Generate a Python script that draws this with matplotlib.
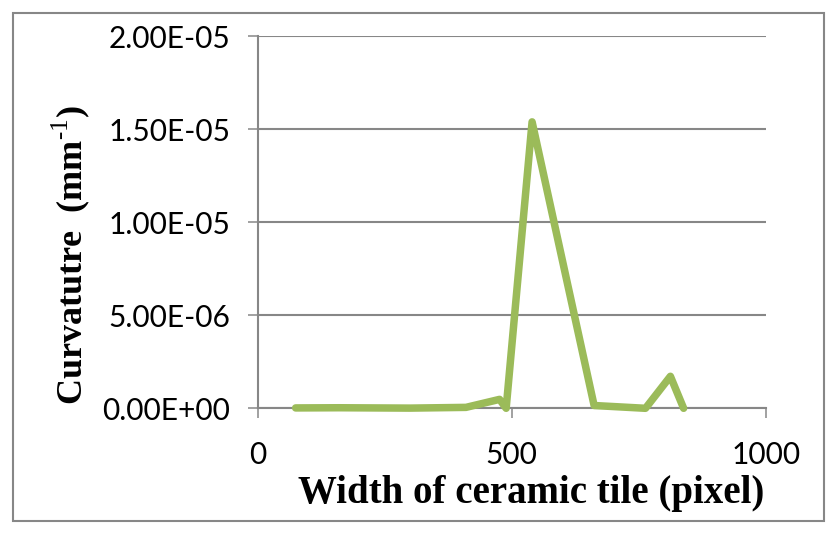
import matplotlib
matplotlib.use("Agg")
import matplotlib.pyplot as plt
from matplotlib.patches import Rectangle

# data
width_px = [75, 160, 300, 410, 476, 489, 540, 662, 763, 812, 838]
curvature = [2e-8, 3e-8, 1e-8, 5e-8, 4.8e-7, 0.0, 1.54e-5, 1.5e-7, 0.0, 1.72e-6, 0.0]

x_ticks = [0, 500, 1000]
y_ticks = [0, 5e-6, 1e-5, 1.5e-5, 2e-5]

line_color = "#9BBB59"
grid_color = "#878787"

plt.rcParams["mathtext.fontset"] = "custom"
plt.rcParams["mathtext.rm"] = "Liberation Serif"

fig = plt.figure(figsize=(8.39, 5.35), dpi=100)
ax = fig.add_axes([257.5 / 839, 1 - 408.3 / 535, (766 - 257.5) / 839, (408.3 - 36.3) / 535])

ax.plot(width_px, curvature, color=line_color, lw=5.4, solid_joinstyle="round",
        solid_capstyle="round", clip_on=False, zorder=5)

ax.set_xlim(0, 1000)
ax.set_ylim(0, 2e-5)
ax.set_xticks(x_ticks)
ax.set_yticks(y_ticks)
ax.set_xticklabels([str(v) for v in x_ticks], fontfamily="Lato", fontsize=21.5)
ax.set_yticklabels(["%.2E" % v for v in y_ticks], fontfamily="Lato", fontsize=21.5)

ax.yaxis.grid(True, color=grid_color, lw=1.5)
ax.set_axisbelow(True)
for side in ["top", "right"]:
    ax.spines[side].set_visible(False)
for side in ["left", "bottom"]:
    ax.spines[side].set_color(grid_color)
    ax.spines[side].set_linewidth(1.5)
ax.tick_params(axis="both", direction="out", length=7.5, width=1.1, color=grid_color,
               labelcolor="black")
ax.tick_params(axis="x", pad=16)
ax.tick_params(axis="y", pad=12)

fig.text(82 / 839, 1 - 255 / 535, "Curvatutre  (mm$^{\\text{-1}}$)", rotation=90,
         rotation_mode="anchor", ha="center", va="baseline",
         fontfamily="Liberation Serif", fontweight="bold", fontsize=26)
fig.text(531 / 839, 1 - 503 / 535, "Width of ceramic tile (pixel)", ha="center", va="baseline",
         fontfamily="Liberation Serif", fontweight="bold", fontsize=28)

# outer chart border
fig.patches.append(Rectangle((13 / 839, 1 - 521 / 535), (824 - 13) / 839, (521 - 12.5) / 535,
                             transform=fig.transFigure, fill=False, edgecolor=grid_color, lw=1.5))

fig.savefig("out.png", dpi=100)
